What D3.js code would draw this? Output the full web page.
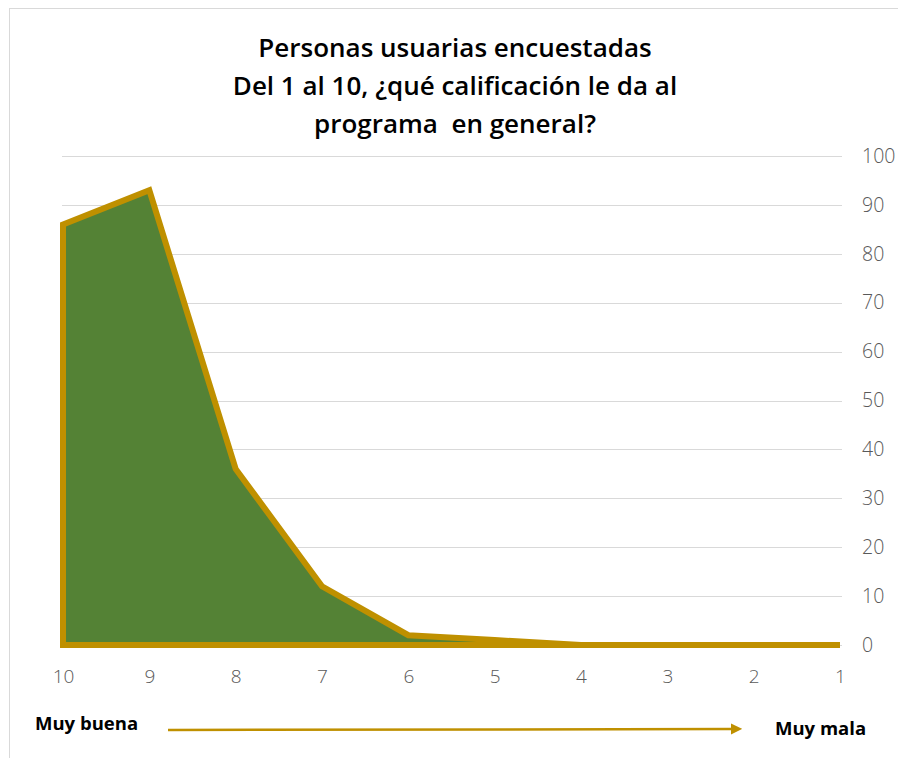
<!DOCTYPE html>
<html><head><meta charset="utf-8">
<script src="https://cdn.jsdelivr.net/npm/d3@7"></script>
<style>
html,body{margin:0;padding:0;background:#fff;}
svg{display:block;}
</style></head>
<body>
<script>
const categories = ["10","9","8","7","6","5","4","3","2","1"];
const values = [86, 93, 36, 12, 2, 1, 0, 0, 0, 0];
const yTicks = [0,10,20,30,40,50,60,70,80,90,100];
const titleLines = ["Personas usuarias encuestadas","Del 1 al 10, ¿qué calificación le da al","programa  en general?"];
const leftLabel = "Muy buena";
const rightLabel = "Muy mala";

const W = 898, H = 758;
const svg = d3.select("body").append("svg").attr("width", W).attr("height", H);

// chart frame
svg.append("rect").attr("x", 9.5).attr("y", 8.5).attr("width", W).attr("height", H)
  .attr("fill", "#fff").attr("stroke", "#d9d9d9").attr("stroke-width", 1);

const x = d3.scalePoint().domain(categories).range([63, 840]);
const y = d3.scaleLinear().domain([0, 100]).range([645, 156]);

// gridlines
svg.append("g").selectAll("line").data(yTicks).join("line")
  .attr("x1", 62).attr("x2", 842)
  .attr("y1", d => Math.round(y(d)) + 0.5).attr("y2", d => Math.round(y(d)) + 0.5)
  .attr("stroke", "#d9d9d9").attr("stroke-width", 1);

// title
svg.append("g").selectAll("text").data(titleLines).join("text")
  .attr("x", 455).attr("y", (d, i) => 57 + i * 38)
  .attr("text-anchor", "middle")
  .attr("font-family", "'Open Sans', sans-serif")
  .attr("font-weight", 600).attr("font-size", 26)
  .attr("fill", "#000")
  .style("white-space", "pre")
  .text(d => d);

// area
const data = categories.map((c, i) => ({c, v: values[i]}));
const area = d3.area().x(d => x(d.c)).y0(y(0)).y1(d => y(d.v));
svg.append("path").datum(data).attr("d", area)
  .attr("fill", "#548235").attr("stroke", "#bf9000").attr("stroke-width", 6)
  .attr("stroke-linejoin", "miter");

// right y axis
const yAxis = d3.axisRight(y).tickValues(yTicks).tickSize(0).tickPadding(0);
const gy = svg.append("g").attr("transform", "translate(862,0)").call(yAxis);
gy.select(".domain").remove();
gy.selectAll("text").attr("font-family", "'Open Sans', sans-serif").attr("font-weight", 300)
  .attr("font-size", 19.5).attr("fill", "#595959");

// bottom x axis
const xAxis = d3.axisBottom(x).tickSize(0).tickPadding(0);
const gx = svg.append("g").attr("transform", "translate(0,676.5)").call(xAxis);
gx.select(".domain").remove();
gx.selectAll("text").attr("font-family", "'Open Sans', sans-serif").attr("font-weight", 300)
  .attr("font-size", 19).attr("fill", "#595959").attr("dy", "0.36em");

// bottom labels & arrow
svg.append("text").attr("x", 35).attr("y", 730)
  .attr("font-family", "'Open Sans', sans-serif").attr("font-weight", 700).attr("font-size", 18.5)
  .attr("fill", "#000").text(leftLabel);
svg.append("text").attr("x", 775).attr("y", 735)
  .attr("font-family", "'Open Sans', sans-serif").attr("font-weight", 700).attr("font-size", 18.5)
  .attr("fill", "#000").text(rightLabel);

const defs = svg.append("defs");
defs.append("marker").attr("id", "arr").attr("viewBox", "0 0 10 10")
  .attr("refX", 0).attr("refY", 5).attr("markerWidth", 4.5).attr("markerHeight", 4.5)
  .attr("markerUnits", "strokeWidth").attr("orient", "auto")
  .append("path").attr("d", "M0,0L10,5L0,10z").attr("fill", "#bf9000");
svg.append("line").attr("x1", 168).attr("y1", 730).attr("x2", 731).attr("y2", 729)
  .attr("stroke", "#bf9000").attr("stroke-width", 2.5).attr("marker-end", "url(#arr)");
</script>
</body></html>
